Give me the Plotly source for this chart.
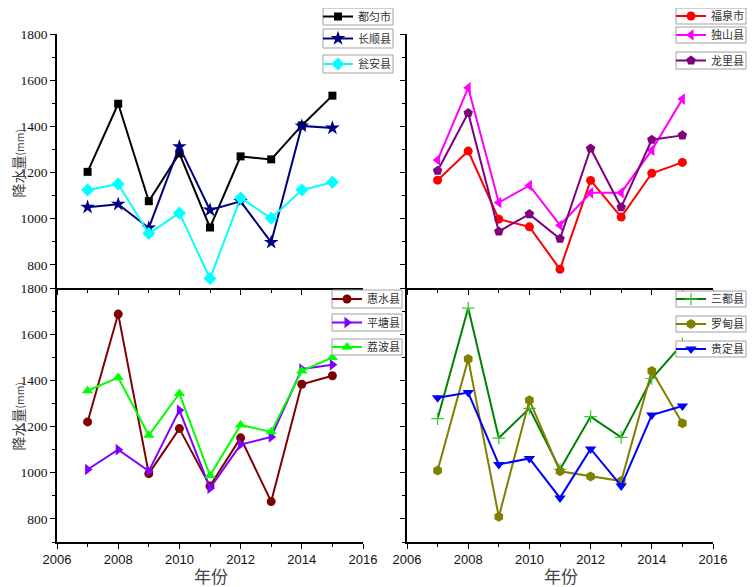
import plotly.graph_objects as go

years = [2007, 2008, 2009, 2010, 2011, 2012, 2013, 2014, 2015]

# Panel 1 (top-left)
duyun = [1203, 1498, 1076, 1283, 962, 1270, 1257, 1404, 1533]
changshun = [1050, 1063, 960, 1312, 1038, 1075, 898, 1402, 1393]
wengan = [1124, 1150, 936, 1025, 741, 1090, 1002, 1124, 1158]
# Panel 2 (top-right)
fuquan = [1167, 1293, 998, 965, 781, 1166, 1007, 1197, 1244]
dushan = [1254, 1567, 1070, 1144, 972, 1112, 1113, 1297, 1518]
longli = [1208, 1458, 945, 1020, 913, 1304, 1050, 1342, 1361]
# Panel 3 (bottom-left)
huishui = [1220, 1687, 996, 1191, 942, 1151, 875, 1383, 1420]
pingtang = [1014, 1100, 1007, 1271, 933, 1122, 1155, 1449, 1468]
libo = [1355, 1412, 1162, 1343, 988, 1207, 1177, 1441, 1499]
# Panel 4 (bottom-right)
sandu = [1234, 1713, 1150, 1279, 1014, 1243, 1153, 1408, 1558]
luodian = [1010, 1492, 809, 1314, 1006, 984, 964, 1441, 1214]
guiding = [1325, 1347, 1036, 1062, 891, 1103, 943, 1250, 1289]

series = [
    # name, data, panel, line color, marker color, symbol, size
    ("都匀市", duyun, 1, "#000000", "#000000", "square", 8),
    ("长顺县", changshun, 1, "#000080", "#000080", "star", 11),
    ("瓮安县", wengan, 1, "#00FFFF", "#00FFFF", "diamond", 10),
    ("福泉市", fuquan, 2, "#FF0000", "#FF0000", "circle", 9),
    ("独山县", dushan, 2, "#FF00FF", "#FF00FF", "triangle-left", 10),
    ("龙里县", longli, 2, "#800080", "#800080", "pentagon", 10),
    ("惠水县", huishui, 3, "#800000", "#800000", "circle", 9),
    ("平塘县", pingtang, 3, "#8000FF", "#8000FF", "triangle-right", 10),
    ("荔波县", libo, 3, "#00FF00", "#00FF00", "triangle-up", 10),
    ("三都县", sandu, 4, "#008000", "#33CC33", "cross-thin", 9),
    ("罗甸县", luodian, 4, "#808000", "#808000", "hexagon", 10),
    ("贵定县", guiding, 4, "#0000FF", "#0000FF", "triangle-down", 10),
]

# The page body has an 8px margin, so the figure is offset by 8px.
OFF = 8
W, H = 740, 579
def px_x(p):
    return (p - OFF) / W
def px_y(p):
    return 1 - (p - OFF) / H

# legend boxes in screen px: (left, top, right, bottom)
legend_boxes = [
    (323, 8, 393, 25), (323, 29, 393, 48), (323, 55, 393, 73),
    (676, 8, 746, 24), (676, 27, 746, 43), (676, 52, 746, 69),
    (332, 290, 402, 308), (332, 314, 402, 331), (332, 339, 402, 355),
    (676, 291, 746, 307), (676, 316, 746, 332), (676, 341, 746, 357),
]

fig = go.Figure()
layout_legends = {}
shapes = []
for i, (name, data, panel, lc, mc, sym, sz) in enumerate(series):
    lname = "legend" if i == 0 else f"legend{i+1}"
    ax = "" if panel == 1 else str(panel)
    mline = dict(width=0)
    if sym == "cross-thin":
        mline = dict(width=1.2, color=mc)
    fig.add_trace(go.Scatter(
        x=years, y=data, name=name, mode="lines+markers",
        line=dict(color=lc, width=2),
        marker=dict(symbol=sym, size=sz, color=mc, line=mline),
        xaxis="x" + ax, yaxis="y" + ax, legend=lname, showlegend=True,
    ))
    l, t, r, b = legend_boxes[i]
    shapes.append(dict(
        type="rect", xref="paper", yref="paper", layer="above",
        x0=px_x(l), x1=px_x(r), y0=px_y(b), y1=px_y(t),
        line=dict(color="#A0A0A0", width=1), fillcolor="white",
    ))
    layout_legends[lname] = dict(
        x=px_x(l - 5), y=px_y((t + b) / 2), xanchor="left", yanchor="middle",
        borderwidth=0, bgcolor="rgba(0,0,0,0)",
        font=dict(family="Noto Sans CJK SC", size=11, color="#333333"),
        itemwidth=30, tracegroupgap=0, visible=True,
    )

xl = (px_x(57), px_x(363))
xr = (px_x(407), px_x(713))
yt = (px_y(288), px_y(34))
yb = (px_y(542), px_y(288))

def xaxis(domain, anchor, labels):
    return dict(
        domain=domain, anchor=anchor, range=[2006, 2016], tick0=2006, dtick=2,
        showticklabels=labels, showline=True, linecolor="black", linewidth=1.5,
        ticks="outside", ticklen=5, tickwidth=1.2, tickcolor="black",
        minor=dict(ticks="outside", ticklen=3, dtick=1, tick0=2006, tickcolor="black"),
        showgrid=False, zeroline=False, automargin=False,
        tickfont=dict(family="Liberation Sans", size=13, color="#111111"),
    )

def yaxis(domain, anchor, labels):
    return dict(
        domain=domain, anchor=anchor, range=[700, 1800], tick0=0, dtick=200,
        showticklabels=labels, showline=True, linecolor="black", linewidth=1.5,
        ticks="outside", ticklen=5, tickwidth=1.2, tickcolor="black",
        minor=dict(ticks="outside", ticklen=3, dtick=100, tick0=0, tickcolor="black"),
        showgrid=False, zeroline=False, automargin=False,
        tickfont=dict(family="Liberation Serif", size=13.5, color="#111111"),
    )

fig.update_layout(
    width=W, height=H, margin=dict(l=0, r=0, t=0, b=0, autoexpand=False),
    paper_bgcolor="white", plot_bgcolor="white", showlegend=True,
    xaxis=xaxis(xl, "y", False), yaxis=yaxis(yt, "x", True),
    xaxis2=xaxis(xr, "y2", False), yaxis2=yaxis(yt, "x2", False),
    xaxis3=xaxis(xl, "y3", True), yaxis3=yaxis(yb, "x3", True),
    xaxis4=xaxis(xr, "y4", True), yaxis4=yaxis(yb, "x4", False),
    shapes=shapes,
    **layout_legends,
)

ytitle_font = dict(family="Noto Sans CJK SC", size=14, color="#444444")
ytitle = "降水量<span style='font-size:10.5px'>(mm)</span>"
for yc in (163, 416):
    fig.add_annotation(text=ytitle, xref="paper", yref="paper", x=px_x(17.5), y=px_y(yc),
                       textangle=-90, showarrow=False, font=ytitle_font,
                       xanchor="center", yanchor="middle", borderpad=0)
xtitle_font = dict(family="Noto Sans CJK SC", size=17, color="#444444")
for xc in (211, 561):
    fig.add_annotation(text="年份", xref="paper", yref="paper", x=px_x(xc), y=px_y(575),
                       showarrow=False, font=xtitle_font, xanchor="center", yanchor="middle",
                       borderpad=0)

fig.write_html("out.html")
